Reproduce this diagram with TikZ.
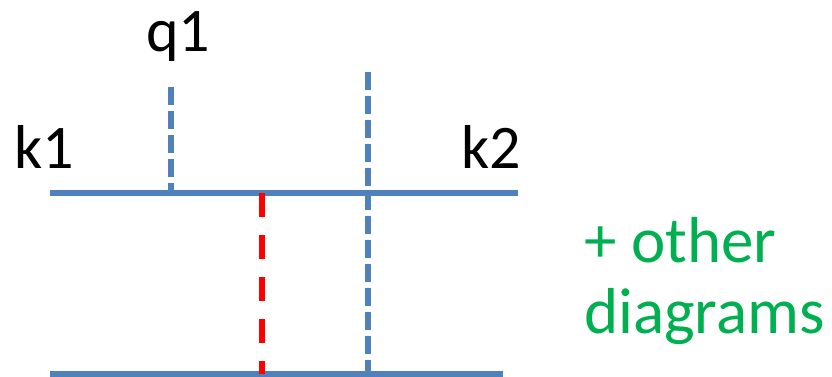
\documentclass[tikz,border=0pt]{standalone}
\usepackage{fontspec}
\setmainfont{Carlito}
\usepackage{tikz}
\usetikzlibrary{positioning}
\definecolor{LineBlue}{HTML}{4F81BD}
\definecolor{CutRed}{HTML}{FF0000}
\definecolor{NoteGreen}{HTML}{00B050}

\begin{document}
\begin{tikzpicture}[
  x=1pt, y=-1pt,
  prop/.style={draw=LineBlue, line width=5.5pt},
  exch/.style={draw=LineBlue, line width=5.5pt, dash pattern=on 18pt off 6pt},
  cutline/.style={draw=CutRed, line width=5.5pt, dash pattern=on 24pt off 18pt},
  lbl/.style={inner sep=0pt, font=\fontsize{62}{71}\selectfont}
]
\useasboundingbox (0,0) rectangle (832,377);
% end points of the two lines
\coordinate (topL) at (50,193);
\coordinate (topR) at (518,193);
\coordinate (botL) at (50,374);
\coordinate (botR) at (503,374);
\coordinate (qtop) at (171,87);
\coordinate (qfoot) at (171,193);
\coordinate (xtop) at (368,72);
\coordinate (xfoot) at (368,377);
\coordinate (cuttop) at (262,193);
\coordinate (cutfoot) at (262,374);
% labels
\node[lbl, anchor=base west] (k1) at (14,168) {k1};
\node[lbl, anchor=base east] (k2) at (521,168) {k2};
\node[lbl, anchor=base] (q1) at (178,52) {q1};
\node[lbl, anchor=base west, align=left, text=NoteGreen,
  font=\fontsize{65}{71}\selectfont] (other) at (584,333) {+ other\\diagrams};
% lines
\draw[prop] (topL) -- (topR);
\draw[prop] (botL) -- (botR);
\draw[exch] (qtop) -- (qfoot);
\draw[exch] (xtop) -- (xfoot);
\draw[cutline] (cuttop) -- (cutfoot);
\end{tikzpicture}
\end{document}
